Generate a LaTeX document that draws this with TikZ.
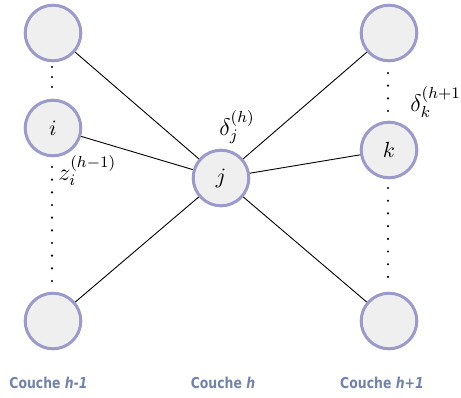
\documentclass[tikz,border=0pt]{standalone}
\usepackage{fontspec}
\newfontfamily\couchefont[FakeStretch=0.83]{DejaVu Sans}
\definecolor{ringcol}{HTML}{9A9ACC}
\definecolor{fillcol}{HTML}{EFEFEF}
\definecolor{laycol}{HTML}{7282AE}
\tikzset{
  neuron/.style={circle, draw=ringcol, fill=fillcol, line width=1.5pt, minimum size=27.8pt, inner sep=0pt, font=\fontsize{11}{13}\selectfont},
  link/.style={draw=black, line width=0.45pt},
  lbl/.style={anchor=base west, inner sep=0pt, font=\fontsize{12}{14}\selectfont},
  layer/.style={anchor=base, inner sep=0pt, text=laycol, font=\couchefont\bfseries\fontsize{7.5}{9}\selectfont},
  dotmark/.style={fill=black}
}
\begin{document}
\begin{tikzpicture}[x=0.5pt,y=-0.5pt]
\useasboundingbox (0,0) rectangle (461,397);
% nodes
\node[neuron] (L1) at (53,33) {};
\node[neuron] (Li) at (53,128) {$i$};
\node[neuron] (L3) at (53,321) {};
\node[neuron] (J) at (221,178) {$j$};
\node[neuron] (R1) at (389,33) {};
\node[neuron] (Rk) at (389,150) {$k$};
\node[neuron] (R3) at (389,321) {};
% connectors
\draw[link] (J) -- (L1);
\draw[link] (J) -- (Li);
\draw[link] (J) -- (L3);
\draw[link] (J) -- (R1);
\draw[link] (J) -- (Rk);
\draw[link] (J) -- (R3);
% dots
\foreach \y in {67,77,87} \fill[dotmark] (52,\y) circle[radius=1.2];
\foreach \i in {0,...,9} \fill[dotmark] (52,{167+12.67*\i}) circle[radius=1.2];
\foreach \i in {0,...,3} \fill[dotmark] (388,{73+12.67*\i}) circle[radius=1.2];
\foreach \i in {0,...,7} \fill[dotmark] (388,{188+12.7*\i}) circle[radius=1.2];
% labels
\node[lbl] (dj) at (219,135) {$\delta_j^{(h)}$};
\node[lbl] (zi) at (58,180) {$z_i^{(h-1)}$};
\node[lbl] (dk) at (410,111) {$\delta_k^{(h+1)}$};
% layer names
\node[layer] (c1) at (48.5,388) {Couche \textit{h-1}};
\node[layer] (c2) at (223,388) {Couche \textit{h}};
\node[layer] (c3) at (382,388) {Couche \textit{h+1}};
\end{tikzpicture}
\end{document}
